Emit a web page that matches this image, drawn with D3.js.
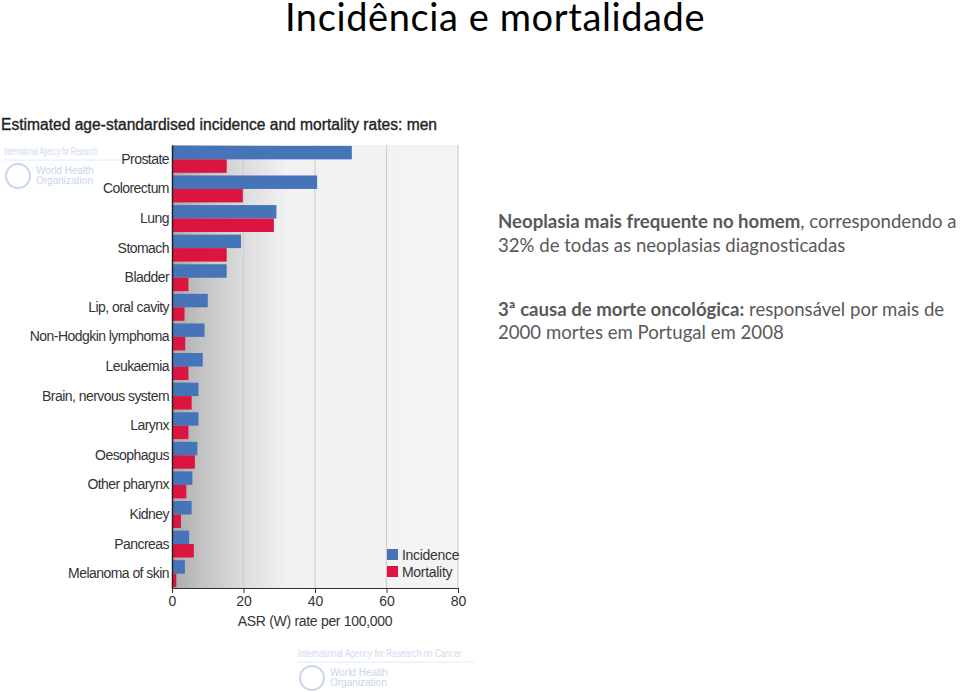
<!DOCTYPE html>
<html><head><meta charset="utf-8">
<script src="https://cdn.jsdelivr.net/npm/d3@7"></script>
<style>body{margin:0;background:#fff}svg{display:block}</style>
</head><body>
<svg id="c" width="960" height="692"></svg>
<script>
const categories = ["Prostate","Colorectum","Lung","Stomach","Bladder","Lip, oral cavity","Non-Hodgkin lymphoma","Leukaemia","Brain, nervous system","Larynx","Oesophagus","Other pharynx","Kidney","Pancreas","Melanoma of skin"];
const incidence = [50.3,40.6,29.2,19.3,15.3,10.0,9.1,8.6,7.4,7.4,7.1,5.7,5.5,4.8,3.6];
const mortality = [15.3,19.8,28.5,15.3,4.6,3.5,3.7,4.6,5.5,4.6,6.4,4.0,2.5,6.1,1.2];
const seriesNames = ["Incidence","Mortality"];
const xTicks = [0,20,40,60,80];
const colors = {Incidence:"#4674b8", Mortality:"#dc1440"};

const svg = d3.select("#c");
const L = 172, R = 458, T = 145, B = 588;
const x = d3.scaleLinear().domain([0,80]).range([L,R]);
const y0 = d3.scaleBand().domain(categories).range([T,B]).paddingInner(0.09).paddingOuter(0.03);
const y1 = d3.scaleBand().domain(seriesNames).range([0,y0.bandwidth()]);

// page title
svg.append("text").attr("x",495).attr("y",31).attr("text-anchor","middle")
  .attr("font-family","Lato, sans-serif").attr("font-size",38).attr("letter-spacing","0.6").attr("fill","#000")
  .text("Incidência e mortalidade");

// chart title
svg.append("text").attr("x",1).attr("y",130).attr("font-family","Liberation Sans, Arial, sans-serif")
  .attr("font-size",15.6).attr("fill","#222").attr("stroke","#222").attr("stroke-width",0.35)
  .text("Estimated age-standardised incidence and mortality rates: men");

// watermarks
function logo(gx, gy, sx, label){
  const g = svg.append("g").attr("transform",`translate(${gx},${gy})`).attr("fill","#c8d6ea");
  g.append("text").attr("transform",`scale(${sx},1)`).attr("x",0).attr("y",9)
    .attr("font-family","Liberation Sans, Arial").attr("font-size",10).attr("opacity",0.85).text(label);
  g.append("line").attr("x1",0).attr("x2",sx*215).attr("y1",14).attr("y2",14).attr("stroke","#e4eaf3");
  g.append("circle").attr("cx",14).attr("cy",30).attr("r",12).attr("fill","none").attr("stroke","#c8d6ea").attr("stroke-width",2);
  g.append("text").attr("x",32).attr("y",28).attr("font-family","Liberation Sans, Arial").attr("font-size",10).text("World Health");
  g.append("text").attr("x",32).attr("y",38).attr("font-family","Liberation Sans, Arial").attr("font-size",10).text("Organization");
}
logo(4,146,0.62,"International Agency for Research");
logo(298,648,0.82,"International Agency for Research on Cancer");

// plot background with gradient
const defs = svg.append("defs");
const grad = defs.append("linearGradient").attr("id","bg").attr("x1","0").attr("x2","1").attr("y1","0").attr("y2","0");
grad.append("stop").attr("offset","0").attr("stop-color","#a9a9a9");
grad.append("stop").attr("offset","0.1").attr("stop-color","#c2c2c2");
grad.append("stop").attr("offset","0.25").attr("stop-color","#dcdcdc");
grad.append("stop").attr("offset","0.4").attr("stop-color","#f1f1f1");
grad.append("stop").attr("offset","1").attr("stop-color","#f4f4f4");
svg.append("rect").attr("x",L).attr("y",T).attr("width",R-L).attr("height",B-T).attr("fill","url(#bg)");

// grid lines
svg.append("g").selectAll("line").data(xTicks.slice(1)).join("line")
  .attr("x1",d=>x(d)).attr("x2",d=>x(d)).attr("y1",T).attr("y2",B)
  .attr("stroke","#cfcfcf").attr("stroke-width",1.2);

// bars
const rows = svg.append("g").selectAll("g").data(categories).join("g")
  .attr("transform",d=>`translate(0,${y0(d)})`);
rows.selectAll("rect").data((d,i)=>[{s:"Incidence",v:incidence[i]},{s:"Mortality",v:mortality[i]}]).join("rect")
  .attr("x",x(0)).attr("y",d=>y1(d.s)).attr("height",y1.bandwidth())
  .attr("width",d=>x(d.v)-x(0)).attr("fill",d=>colors[d.s]);

// y axis
const yAxis = svg.append("g").attr("transform",`translate(${L},0)`)
  .call(d3.axisLeft(y0).tickSize(0).tickPadding(3));
yAxis.select(".domain").attr("stroke","#222").attr("stroke-width",1.5);
yAxis.selectAll("text").attr("font-family","Liberation Sans, Arial, sans-serif").attr("font-size",14)
  .attr("fill","#333").attr("letter-spacing","-0.55");

// x axis
const xAxis = svg.append("g").attr("transform",`translate(0,${B})`)
  .call(d3.axisBottom(x).tickValues(xTicks).tickSize(5).tickPadding(3).tickSizeOuter(0));
xAxis.select(".domain").attr("stroke","#333");
xAxis.selectAll("line").attr("stroke","#333");
xAxis.selectAll("text").attr("font-family","Liberation Sans, Arial, sans-serif").attr("font-size",14).attr("fill","#333");
svg.append("text").attr("x",315).attr("y",626).attr("text-anchor","middle")
  .attr("font-family","Liberation Sans, Arial, sans-serif").attr("font-size",14).attr("fill","#333")
  .attr("letter-spacing","-0.3").text("ASR (W) rate per 100,000");

// legend
const lg = svg.append("g").attr("transform","translate(387,549)");
seriesNames.forEach((s,i)=>{
  lg.append("rect").attr("x",0).attr("y",i*17).attr("width",11).attr("height",11).attr("fill",colors[s]);
  lg.append("text").attr("x",15).attr("y",i*17+11).attr("font-family","Liberation Sans, Arial, sans-serif")
    .attr("font-size",14).attr("letter-spacing","-0.3").attr("fill","#333").text(s);
});

// side text
const side = svg.append("g").attr("font-family","Lato, sans-serif").attr("font-size",18.6).attr("fill","#595959");
function line(yy, parts){
  const t = side.append("text").attr("x",498).attr("y",yy);
  parts.forEach(p=>t.append("tspan").attr("font-weight",p[1]?"bold":"normal").text(p[0]));
}
line(228,[["Neoplasia mais frequente no homem",true],[", correspondendo a",false]]);
line(252,[["32% de todas as neoplasias diagnosticadas",false]]);
line(316,[["3ª causa de morte oncológica:",true],[" responsável por mais de",false]]);
line(339,[["2000 mortes em Portugal em 2008",false]]);
</script>
</body></html>
